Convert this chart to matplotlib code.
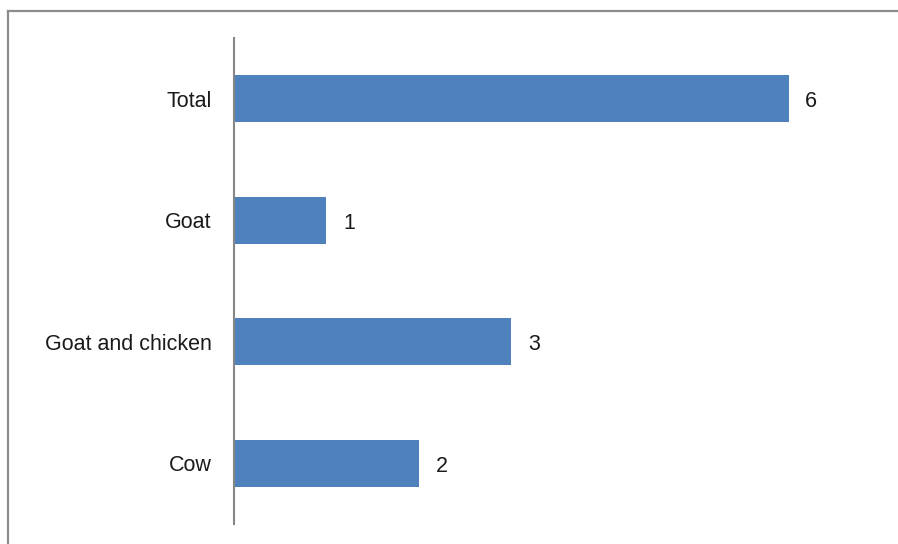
import matplotlib.pyplot as plt
from matplotlib.lines import Line2D

categories = ["Cow", "Goat and chicken", "Goat", "Total"]
counts = [2, 3, 1, 6]

plt.rcParams['font.family'] = 'Liberation Sans'

W, H = 898, 544
fig = plt.figure(figsize=(W / 100, H / 100), dpi=100)
ax = fig.add_axes([234 / W, 20 / H, 647 / W, 486 / H])

ypos = range(len(categories))
bars = ax.barh(ypos, counts, height=0.39, color="#4F81BD")
ax.set_xlim(0, 7)
ax.set_ylim(-0.5, len(categories) - 0.5)
ax.set_yticks(list(ypos))
ax.set_yticklabels(categories, fontsize=15.5, color="#1a1a1a")
ax.tick_params(axis='y', length=0, pad=16)
ax.set_xticks([])

for side in ("top", "right", "bottom"):
    ax.spines[side].set_visible(False)
ax.spines["left"].set_color("#868686")
ax.spines["left"].set_linewidth(1.5)

for b, v in zip(bars, counts):
    ax.annotate(str(v), (b.get_width(), b.get_y() + b.get_height() / 2),
                xytext=(12, -2), textcoords="offset points",
                va="center", ha="left", fontsize=15.5, color="#1a1a1a")

# chart frame (left and top edges)
fx, fy = 7.5 / W, 1 - 10.5 / H
fig.add_artist(Line2D([fx, fx], [0, fy], transform=fig.transFigure,
                      color="#8c8c8c", lw=1.6))
fig.add_artist(Line2D([fx, 1], [fy, fy], transform=fig.transFigure,
                      color="#8c8c8c", lw=1.6))

fig.savefig("out.png", dpi=100)
